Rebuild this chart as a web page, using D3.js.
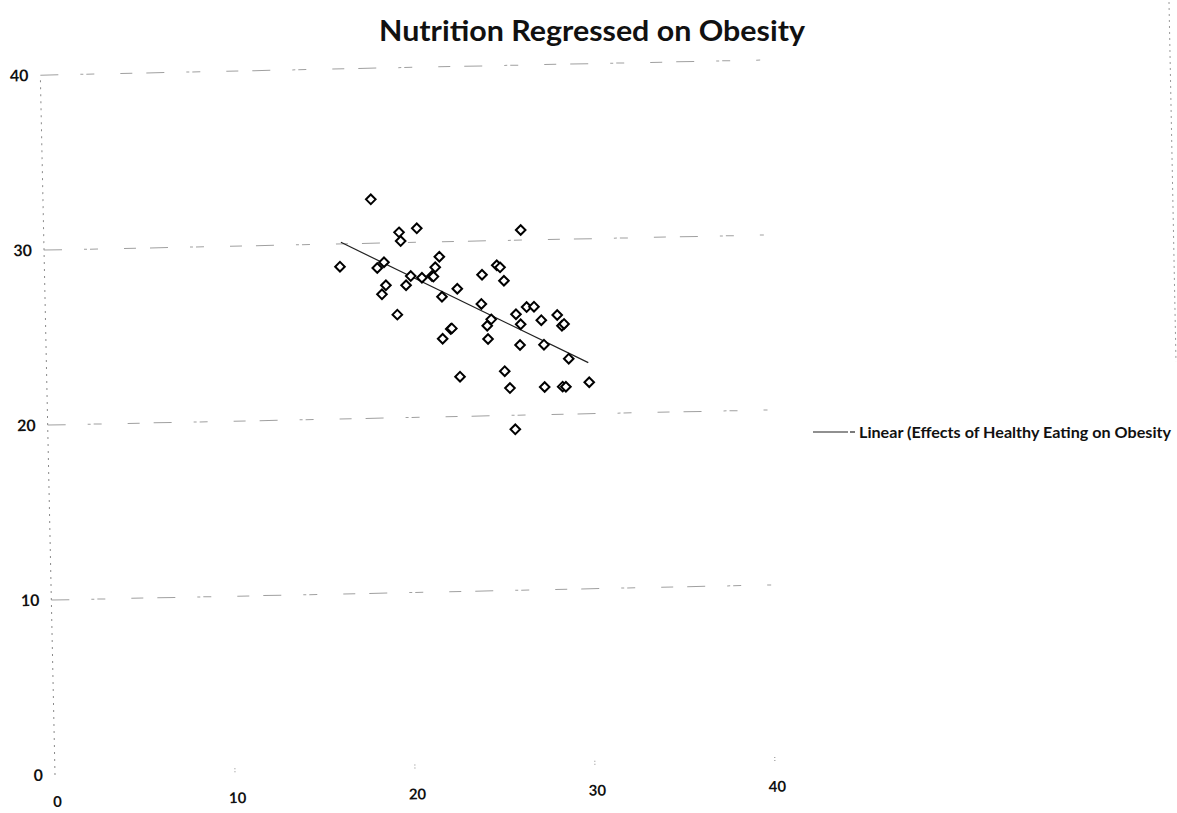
<!DOCTYPE html>
<html>
<head>
<meta charset="utf-8">
<script src="https://cdn.jsdelivr.net/npm/d3@7/dist/d3.min.js"></script>
<style>
  html, body { margin: 0; padding: 0; background: #fff; }
  svg { display: block; }
</style>
</head>
<body>
<svg id="chart" width="1177" height="813"></svg>
<script>
// ---- data ----
const title = "Nutrition Regressed on Obesity";
const legendLabel = "Linear (Effects of Healthy Eating on Obesity";
const xTicks = [0, 10, 20, 30, 40];
const yTicks = [0, 10, 20, 30, 40];
const gridValues = [10, 20, 30, 40];
const nutrition = [18.21, 19.74, 19.82, 20.73, 26.50, 16.42, 18.49, 18.87, 18.95, 18.72,
  20.07, 20.34, 20.96, 21.52, 21.60, 21.71, 21.95, 19.55, 22.05, 22.50,
  22.56, 22.04, 22.91, 22.96, 24.30, 24.23, 24.76, 24.53, 24.56, 25.13,
  25.31, 25.51, 25.45, 25.72, 25.97, 26.14, 26.39, 26.33, 26.74, 27.15,
  27.54, 27.66, 27.65, 28.43, 28.68, 28.80, 29.02, 28.65, 28.83, 30.13];
const obesity = [32.51, 30.59, 30.09, 30.80, 30.58, 28.70, 28.58, 28.90, 27.58, 27.07,
  27.56, 28.08, 27.97, 28.06, 28.02, 28.55, 29.15, 25.89, 26.86, 25.01,
  25.04, 24.46, 27.30, 22.27, 28.07, 26.40, 25.51, 25.15, 24.39, 28.59,
  28.47, 27.70, 22.53, 21.56, 19.20, 25.77, 25.19, 24.01, 26.17, 26.18,
  25.40, 24.00, 21.58, 25.68, 25.06, 25.16, 23.17, 21.58, 21.57, 21.80];
const trendX = [16.5, 30.1];
const trendY = [30.09, 22.92];

// ---- drawing ----
const svg = d3.select("#chart");
const font = "Lato, 'Open Sans', sans-serif";

svg.append("text")
  .attr("x", 592).attr("y", 41)
  .attr("text-anchor", "middle")
  .attr("font-family", font).attr("font-weight", "bold")
  .attr("font-size", 29).attr("fill", "#111")
  .attr("textLength", 426).attr("lengthAdjust", "spacingAndGlyphs")
  .text(title);

// plot group, slightly rotated like the scanned original
const g = svg.append("g").attr("transform", "translate(55,775) rotate(-1.2)");
const x = d3.scaleLinear().domain([0, 40]).range([0, 720]);
const y = d3.scaleLinear().domain([0, 40]).range([0, -700]);

// gridlines
g.selectAll("line.grid").data(gridValues).join("line")
  .attr("class", "grid")
  .attr("x1", x(0)).attr("x2", x(40))
  .attr("y1", d => y(d)).attr("y2", d => y(d))
  .attr("stroke", "#a0a0a0").attr("stroke-width", 1)
  .attr("stroke-dasharray", "18,22,3,3,8,26,12,14");

// y axis line (dotted)
g.append("line")
  .attr("x1", x(0)).attr("x2", x(0))
  .attr("y1", y(0)).attr("y2", y(40))
  .attr("stroke", "#8a8a8a").attr("stroke-width", 1)
  .attr("stroke-dasharray", "2,5");

// tiny x tick marks
g.selectAll("line.xt").data(xTicks.slice(1)).join("line")
  .attr("class", "xt")
  .attr("x1", d => x(d)).attr("x2", d => x(d))
  .attr("y1", -3).attr("y2", 2)
  .attr("stroke", "#888").attr("stroke-width", 1)
  .attr("stroke-dasharray", "1,2");

// y tick labels
g.selectAll("text.yl").data(yTicks).join("text")
  .attr("class", "yl")
  .attr("x", -12).attr("y", d => y(d)).attr("dy", "0.35em")
  .attr("text-anchor", "end")
  .attr("font-family", font).attr("font-weight", "bold")
  .attr("font-size", 16).attr("fill", "#111")
  .text(d => d);

// x tick labels
g.selectAll("text.xl").data(xTicks).join("text")
  .attr("class", "xl")
  .attr("x", d => x(d) + 2).attr("y", 32)
  .attr("text-anchor", "middle")
  .attr("font-family", font).attr("font-weight", "bold")
  .attr("font-size", 15).attr("fill", "#111")
  .text(d => d);

// trend line
g.append("line")
  .attr("x1", x(trendX[0])).attr("y1", y(trendY[0]))
  .attr("x2", x(trendX[1])).attr("y2", y(trendY[1]))
  .attr("stroke", "#222").attr("stroke-width", 1.2);

// diamonds
const pts = nutrition.map((v, i) => [v, obesity[i]]);
g.selectAll("path.pt").data(pts).join("path")
  .attr("class", "pt")
  .attr("transform", d => `translate(${x(d[0])},${y(d[1])}) rotate(1.2)`)
  .attr("d", "M0,-4.8L4.8,0L0,4.8L-4.8,0Z")
  .attr("fill", "#fff").attr("stroke", "#000").attr("stroke-width", 2);

// legend
svg.append("line")
  .attr("x1", 813).attr("x2", 848).attr("y1", 432).attr("y2", 432)
  .attr("stroke", "#222").attr("stroke-width", 1.2);
svg.append("line")
  .attr("x1", 850).attr("x2", 855).attr("y1", 432).attr("y2", 432)
  .attr("stroke", "#222").attr("stroke-width", 1.2);
svg.append("text")
  .attr("x", 859).attr("y", 438)
  .attr("font-family", font).attr("font-weight", "bold")
  .attr("font-size", 16).attr("fill", "#111")
  .attr("textLength", 312).attr("lengthAdjust", "spacingAndGlyphs")
  .text(legendLabel);

// faint scanned page border on the right
svg.append("line")
  .attr("x1", 1169).attr("y1", 2).attr("x2", 1176).attr("y2", 362)
  .attr("stroke", "#999").attr("stroke-width", 1)
  .attr("stroke-dasharray", "2,4");
</script>
</body>
</html>
